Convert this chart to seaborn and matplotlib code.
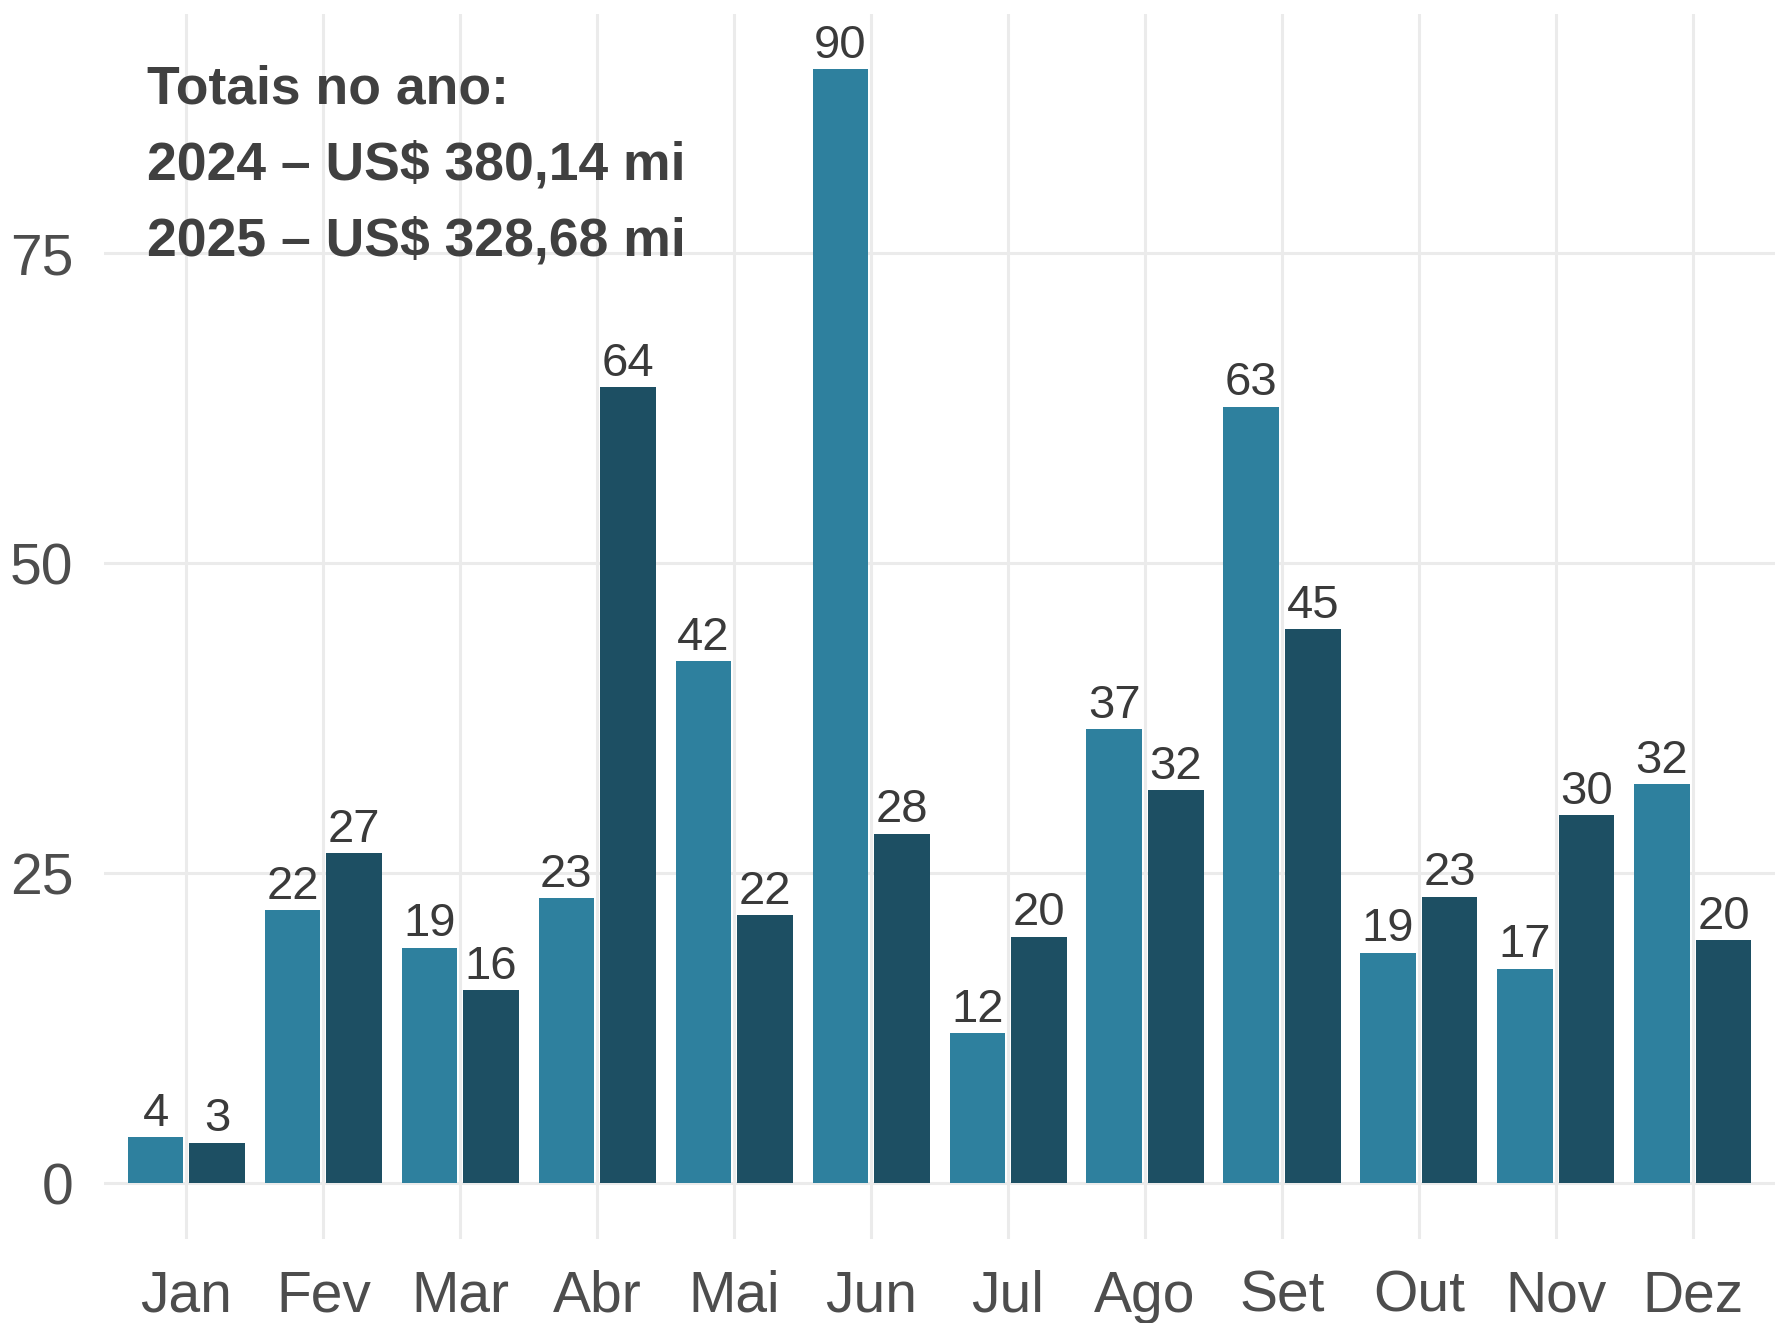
import pandas as pd
import matplotlib
matplotlib.use('Agg')
import matplotlib.pyplot as plt
import seaborn as sns

# Monthly values (US$ mi)
meses = ['Jan', 'Fev', 'Mar', 'Abr', 'Mai', 'Jun', 'Jul', 'Ago', 'Set', 'Out', 'Nov', 'Dez']
valores_2024 = [3.73, 22.04, 19.0, 23.0, 42.1, 89.8, 12.1, 36.6, 62.6, 18.6, 17.3, 32.2]
valores_2025 = [3.28, 26.6, 15.6, 64.2, 21.6, 28.2, 19.9, 31.7, 44.7, 23.1, 29.7, 19.6]
anos = ['2024', '2025']
cores = ['#2E809E', '#1D4F63']
totais = ['Totais no ano:', '2024 – US$ 380,14 mi', '2025 – US$ 328,68 mi']
y_ticks = [0, 25, 50, 75]

df = pd.DataFrame({
    'mes': meses * 2,
    'valor': valores_2024 + valores_2025,
    'ano': [anos[0]] * len(meses) + [anos[1]] * len(meses),
})

sns.set_theme(style='white')
plt.rcParams['font.family'] = ['Liberation Sans', 'DejaVu Sans']

fig = plt.figure(figsize=(17.75, 13.23), dpi=100)
ax = fig.add_axes([0.0587, 0.0633, 0.9413, 0.9264])

sns.barplot(data=df, x='mes', y='valor', hue='ano', palette=cores, order=meses,
            hue_order=anos, width=0.9, gap=0.1, saturation=1, linewidth=0,
            errorbar=None, legend=False, ax=ax, zorder=3)

for cont in ax.containers:
    ax.bar_label(cont, fmt='%.0f', padding=1, fontsize=34, color='#3a3a3a')

ax.set_xlim(-0.6, 11.6)
ax.set_ylim(-4.5, 94.3)
ax.set_yticks(y_ticks)
ax.set_xlabel('')
ax.set_ylabel('')
ax.grid(True, color='#ebebeb', linewidth=2.2, zorder=0)
ax.set_axisbelow(True)
for s in ax.spines.values():
    s.set_visible(False)
ax.tick_params(axis='both', length=0, labelsize=41, labelcolor='#4d4d4d')
ax.tick_params(axis='y', pad=22)
ax.tick_params(axis='x', pad=22)

ax.text(-0.29, 90.2, '\n'.join(totais), fontsize=38.5, fontweight='bold',
        color='#404040', va='top', ha='left', linespacing=1.67, zorder=4)

fig.savefig('out.png', dpi=100)
